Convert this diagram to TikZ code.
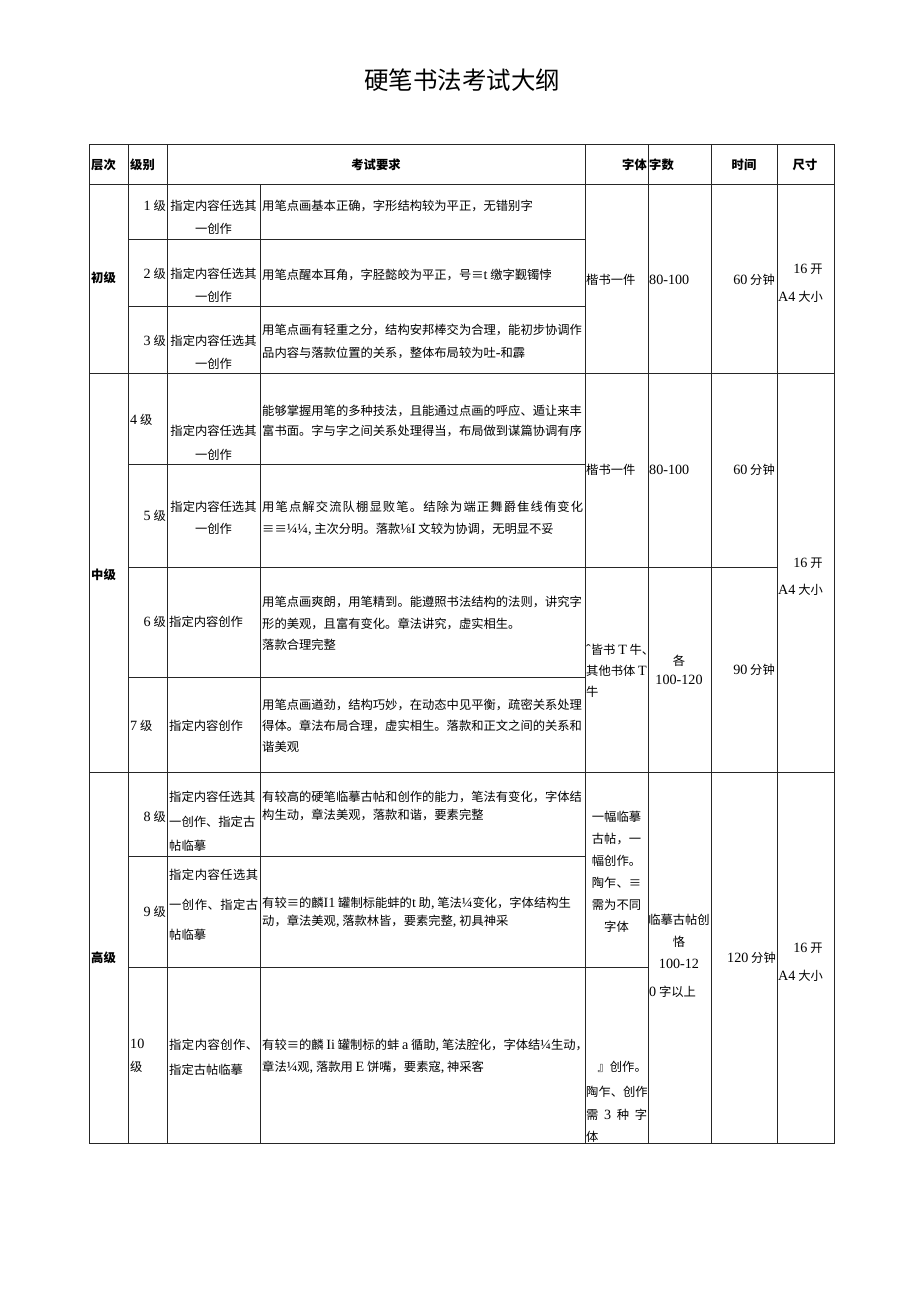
\documentclass[tikz,border=0pt]{standalone}
\usepackage{fontspec}
\setmainfont{Noto Sans CJK SC}
\newfontfamily\latin[Scale=1.15]{Liberation Serif}
\newcommand\lat[1]{{\latin #1}}
\newcommand\gp{\hfil}
\usepackage{tikz}
\usetikzlibrary{positioning}

\begin{document}
\begin{tikzpicture}[x=1pt,y=-1pt]
\tikzstyle{every node}+=[inner sep=0pt]
\tikzstyle{rule}=[draw=black!85, line width=0.9pt]
\tikzset{cell/.style={font=\fontsize{12.3}{#1}\selectfont}, cell/.default=22}
\tikzstyle{hd}=[font=\fontsize{12.3}{22}\selectfont\bfseries]
\useasboundingbox (0,0) rectangle (920,1301);
% title
\node[font=\fontsize{24.5}{26}\selectfont] (title) at (462,80) {硬笔书法考试大纲};
% table rules
\draw[rule] (89,144) rectangle (834,1143);
\foreach \x in {128,167,585,648,711,777}
  \draw[rule] (\x,144) -- (\x,1143);
\draw[rule] (260,184) -- (260,1143);
\foreach \y in {184,373,772}
  \draw[rule] (89,\y) -- (834,\y);
\foreach \y in {239,306,464,677,856}
  \draw[rule] (128,\y) -- (585,\y);
\draw[rule] (128,567) -- (777,567);
\draw[rule] (128,967) -- (648,967);
% header
\node[hd, anchor=west] (hcc) at (91,165) {层次};
\node[hd, anchor=west] (hjb) at (130,165) {级别};
\node[hd] (hyq) at (376,165) {考试要求};
\node[hd, anchor=east] (hzt) at (647,165) {字体};
\node[hd, anchor=west] (hzs) at (649,165) {字数};
\node[hd] (hsj) at (744,165) {时间};
\node[hd] (hcs) at (805,165) {尺寸};
% levels
\node[hd, anchor=west] (cj) at (91,278) {初级};
\node[hd, anchor=west] (zj) at (91,575) {中级};
\node[hd, anchor=west] (gj) at (91,958) {高级};
% grades
\node[cell, anchor=east] (g1) at (166,206) {\lat{1}\ 级};
\node[cell, anchor=east] (g2) at (166,274) {\lat{2}\ 级};
\node[cell, anchor=east] (g3) at (166,341) {\lat{3}\ 级};
\node[cell, anchor=west] (g4) at (130,420) {\lat{4}\ 级};
\node[cell, anchor=east] (g5) at (166,516) {\lat{5}\ 级};
\node[cell, anchor=east] (g6) at (166,622) {\lat{6}\ 级};
\node[cell, anchor=west] (g7) at (130,726) {\lat{7}\ 级};
\node[cell, anchor=east] (g8) at (166,817) {\lat{8}\ 级};
\node[cell, anchor=east] (g9) at (166,912) {\lat{9}\ 级};
\node[cell=23, anchor=west, align=left] (g10) at (130,1056) {\lat{10}\\级};
% contents
\node[cell=23, align=center] (c1) at (213.5,217.5) {指定内容任选其\\一创作};
\node[cell=23, align=center] (c2) at (213.5,285.5) {指定内容任选其\\一创作};
\node[cell=23, align=center] (c3) at (213.5,352.5) {指定内容任选其\\一创作};
\node[cell=24, align=center] (c4) at (213.5,443) {指定内容任选其\\一创作};
\node[cell=22, align=center] (c5) at (213.5,518) {指定内容任选其\\一创作};
\node[cell, anchor=west] (c6) at (169,622) {指定内容创作};
\node[cell, anchor=west] (c7) at (169,726) {指定内容创作};
\node[cell=24.5, anchor=west, align=left] (c8) at (169,821.5)
  {指定内容任选其\\一创作、指定古\\帖临摹};
\node[cell=30, anchor=west, align=left] (c9) at (169,905)
  {\makebox[89pt][s]{指\gp 定\gp 内\gp 容\gp 任\gp 选\gp 其}\\\makebox[89pt][s]{一\gp 创\gp 作\gp 、\gp 指\gp 定\gp 古}\\帖临摹};
\node[cell=25, anchor=west, align=left] (c10) at (169,1057.5)
  {\makebox[89pt][s]{指\gp 定\gp 内\gp 容\gp 创\gp 作\gp 、}\\指定古帖临摹};
% requirements
\node[cell, anchor=west] (d1) at (262,206) {用笔点画基本正确，字形结构较为平正，无错别字};
\node[cell, anchor=west] (d2) at (262,275) {用笔点醒本耳角，字胫懿皎为平正，号≡\lat{t}\ 缴字觐镯悖};
\node[cell=23, anchor=west, align=left] (d3) at (262,341.5)
  {用笔点画有轻重之分，结构安邦棒交为合理，能初步协调作\\品内容与落款位置的关系，整体布局较为吐\lat{-}和霹};
\node[cell=20, anchor=west, align=left] (d4) at (262,421)
  {能够掌握用笔的多种技法，且能通过点画的呼应、遁让来丰\\富书面。字与字之间关系处理得当，布局做到谋篇协调有序};
\node[cell=22, anchor=west, align=left] (d5) at (262,518)
  {\makebox[321pt][s]{用\gp 笔\gp 点\gp 解\gp 交\gp 流\gp 队\gp 棚\gp 显\gp 败\gp 笔\gp 。\gp 结\gp 除\gp 为\gp 端\gp 正\gp 舞\gp 爵\gp 隹\gp 线\gp 侑\gp 变\gp 化}\\≡≡\lat{¼¼,}\ 主次分明。落款\lat{⅛I}\ 文较为协调，无明显不妥};
\node[cell=21.5, anchor=west, align=left] (d6) at (262,623.5)
  {用笔点画爽朗，用笔精到。能遵照书法结构的法则，讲究字\\形的美观，且富有变化。章法讲究，虚实相生。\\落款合理完整};
\node[cell=21, anchor=west, align=left] (d7) at (262,726)
  {用笔点画遒劲，结构巧妙，在动态中见平衡，疏密关系处理\\得体。章法布局合理，虚实相生。落款和正文之间的关系和\\谐美观};
\node[cell=18, anchor=west, align=left] (d8) at (262,806)
  {有较高的硬笔临摹古帖和创作的能力，笔法有变化，字体结\\构生动，章法美观，落款和谐，要素完整};
\node[cell=18, anchor=west, align=left] (d9) at (262,912)
  {有较≡的麟\lat{I1}\ 罐制标能蚌的\lat{t}\ 助\lat{,}\ 笔法\lat{¼}变化，字体结构生\\动，章法美观\lat{,}\ 落款林皆，要素完整\lat{,}\ 初具神采};
\node[cell=22, anchor=west, align=left] (d10) at (262,1056)
  {有较≡的麟\ \lat{Ii}\ 罐制标的蚌\ \lat{a}\ 循助\lat{,}\ 笔法腔化，字体结\lat{¼}生动，\\章法\lat{¼}观\lat{,}\ 落款用\ \lat{E}\ 饼嘴，要素寇\lat{,}\ 神采客};
% font
\node[cell, anchor=west] (f1) at (586,280) {楷书一件};
\node[cell, anchor=west] (f2) at (586,470) {楷书一件};
\node[cell=21, anchor=west, align=left] (f3) at (586,671)
  {\lat{ˆ}皆书\ \lat{T}\ 牛、\\其他书体\ \lat{T}\\牛};
\node[cell=22, align=center] (f4) at (616.5,872)
  {一幅临摹\\古帖，一\\幅创作。\\陶乍、≡\\需为不同\\字体};
\node[cell, anchor=east] (f5) at (647,1067) {』创作。};
\node[cell=22.5, anchor=west, align=left] (f6) at (586,1114.5)
  {陶乍、创作\\\makebox[61pt][s]{需\gp\lat{3}\gp 种\gp 字}\\体};
% number of characters
\node[cell, anchor=west] (n1) at (649,280) {\lat{80-100}};
\node[cell, anchor=west] (n2) at (649,470) {\lat{80-100}};
\node[cell=19, align=center] (n3) at (679,669.5) {各\\\lat{100-120}};
\node[cell=22, align=center] (n4) at (679,941) {临摹古帖创\\恪\\\lat{100-12}};
\node[cell, anchor=west] (n5) at (649,992) {\lat{0}\ 字以上};
% time
\node[cell, anchor=east] (t1) at (775,280) {\lat{60}\ 分钟};
\node[cell, anchor=east] (t2) at (775,470) {\lat{60}\ 分钟};
\node[cell, anchor=east] (t3) at (775,670) {\lat{90}\ 分钟};
\node[cell, anchor=east] (t4) at (776,958) {\lat{120}\ 分钟};
% size
\node[cell] (s1) at (808,269) {\lat{16}\ 开};
\node[cell, anchor=west] (s1b) at (778,297) {\lat{A4}\ 大小};
\node[cell] (s2) at (808,563) {\lat{16}\ 开};
\node[cell, anchor=west] (s2b) at (778,590) {\lat{A4}\ 大小};
\node[cell] (s3) at (808,948) {\lat{16}\ 开};
\node[cell, anchor=west] (s3b) at (778,976) {\lat{A4}\ 大小};
\end{tikzpicture}
\end{document}
